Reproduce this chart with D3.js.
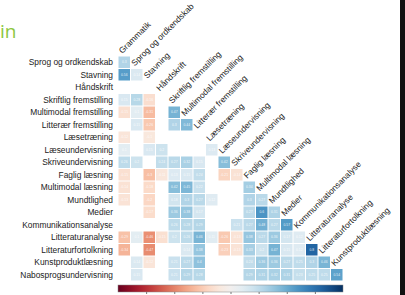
<!DOCTYPE html>
<html>
<head>
<meta charset="utf-8">
<script src="https://cdn.jsdelivr.net/npm/d3@7"></script>
<style>
  body { margin: 0; background: #fff; }
  svg { display: block; font-family: "Liberation Sans", Arial, sans-serif; }
</style>
</head>
<body>
<div id="chart"></div>
<script>
// Correlation matrix (lower triangle) - blank cells are null
const colLabels = ['Grammatik', 'Sprog og ordkendskab', 'Stavning', 'Håndskrift',
    'Skriftlig fremstilling', 'Multimodal fremstilling', 'Litterær fremstilling',
    'Læsetræning', 'Læseundervisning', 'Skriveundervisning', 'Faglig læsning',
    'Multimodal læsning', 'Mundtlighed', 'Medier', 'Kommunikationsanalyse',
    'Litteraturanalyse', 'Litteraturfortolkning', 'Kunstproduktlæsning'];

const rowLabels = ['Sprog og ordkendskab', 'Stavning', 'Håndskrift',
    'Skriftlig fremstilling', 'Multimodal fremstilling', 'Litterær fremstilling',
    'Læsetræning', 'Læseundervisning', 'Skriveundervisning', 'Faglig læsning',
    'Multimodal læsning', 'Mundtlighed', 'Medier', 'Kommunikationsanalyse',
    'Litteraturanalyse', 'Litteraturfortolkning', 'Kunstproduktlæsning',
    'Nabosprogsundervisning'];

const corrRows = [
    [0.30],
    [0.56, 0.14],
    [null, null, null],
    [0.15, 0.28, -0.16, null],
    [-0.15, 0.10, -0.31, null, 0.47],
    [null, 0.15, -0.26, null, 0.30, 0.44],
    [-0.12, null, -0.10, null, null, null, null],
    [0.10, null, 0.15, 0.20, null, null, null, 0.13],
    [0.26, 0.20, null, 0.24, 0.27, 0.32, 0.15, null, 0.42],
    [-0.15, null, -0.30, -0.11, 0.13, 0.15, 0.24, null, -0.21, -0.14],
    [-0.14, null, -0.18, null, 0.42, 0.45, 0.22, null, null, null, 0.34],
    [-0.13, null, -0.20, null, 0.18, 0.30, 0.27, 0.12, null, null, 0.30, 0.27],
    [null, null, -0.17, null, 0.36, 0.38, 0.17, null, null, null, 0.27, 0.60, 0.31],
    [null, null, null, null, 0.26, 0.28, 0.29, null, null, 0.21, 0.27, 0.48, 0.27, 0.57],
    [-0.29, 0.10, -0.46, -0.15, 0.20, 0.26, 0.46, 0.11, -0.26, -0.13, 0.38, 0.27, 0.36, 0.17, 0.12],
    [-0.34, null, -0.47, null, null, 0.14, 0.38, null, -0.23, -0.13, 0.33, 0.20, 0.47, 0.15, 0.12, 0.80],
    [null, 0.14, -0.12, null, 0.21, 0.27, 0.40, null, null, null, 0.24, 0.36, 0.36, 0.27, 0.25, 0.30, 0.46],
    [null, 0.15, null, null, 0.21, 0.29, 0.28, null, null, null, 0.29, 0.31, 0.32, 0.31, 0.23, 0.25, 0.25, 0.54]
];

const legendTicks = [-0.75, -0.5, -0.25, 0, 0.25, 0.5, 0.75];

const W = 405, H = 295;
const svg = d3.select('#chart').append('svg')
    .attr('width', W)
    .attr('height', H);

// slide title fragment
svg.append('text')
    .attr('x', 0)
    .attr('y', 38)
    .style('font-family', '"Open Sans", sans-serif')
    .style('font-size', '19px')
    .style('fill', '#8cc63f')
    .text('in');

// dark slide edge on the right
svg.append('rect')
    .attr('x', 400)
    .attr('y', 0)
    .attr('width', 5)
    .attr('height', H)
    .style('fill', '#111');

const x = d3.scaleBand().domain(colLabels).range([118, 343]);
const y = d3.scaleBand().domain(rowLabels).range([56, 281]);
const color = v => d3.interpolateRdBu((v + 1) / 2);

// flatten into cells
const cells = [];
corrRows.forEach((row, i) => {
    row.forEach((v, j) => {
        if (v !== null) cells.push({ row: rowLabels[i], col: colLabels[j], v: v });
    });
});

const fmt = v => String(+v.toFixed(2));

const g = svg.append('g');
g.selectAll('rect.cell')
    .data(cells)
    .enter().append('rect')
    .attr('class', 'cell')
    .attr('x', d => x(d.col) + 0.5)
    .attr('y', d => y(d.row) + 0.5)
    .attr('width', x.bandwidth() - 1)
    .attr('height', y.bandwidth() - 1)
    .style('fill', d => color(d.v));

g.selectAll('text.val')
    .data(cells)
    .enter().append('text')
    .attr('class', 'val')
    .attr('x', d => x(d.col) + x.bandwidth() / 2)
    .attr('y', d => y(d.row) + y.bandwidth() / 2 + 1.2)
    .attr('text-anchor', 'middle')
    .style('font-size', '3.4px')
    .style('fill', '#fff')
    .style('fill-opacity', 0.85)
    .text(d => fmt(d.v));

// row labels
svg.append('g').selectAll('text')
    .data(rowLabels)
    .enter().append('text')
    .attr('x', 113)
    .attr('y', d => y(d) + y.bandwidth() / 2 + 3)
    .attr('text-anchor', 'end')
    .style('font-size', '8.4px')
    .style('fill', '#222')
    .text(d => d);

// diagonal column labels
svg.append('g').selectAll('text')
    .data(colLabels)
    .enter().append('text')
    .attr('transform', (d, j) =>
        `translate(${x(d) + x.bandwidth() / 2 - 2},${y(rowLabels[j]) - 2}) rotate(-45)`)
    .style('font-size', '8.4px')
    .style('fill', '#222')
    .text(d => d);

// colour bar
const defs = svg.append('defs');
const grad = defs.append('linearGradient').attr('id', 'rdbu');
d3.range(0, 1.001, 0.05).forEach(t => {
    grad.append('stop')
        .attr('offset', `${t * 100}%`)
        .attr('stop-color', d3.interpolateRdBu(t));
});

const lx = d3.scaleLinear().domain([-1, 1]).range([118, 343]);
svg.append('rect')
    .attr('x', lx(-1))
    .attr('y', 285)
    .attr('width', lx(1) - lx(-1))
    .attr('height', 7)
    .style('fill', 'url(#rdbu)')
    .style('stroke', '#888')
    .style('stroke-width', 0.5);

const axis = svg.append('g')
    .attr('transform', 'translate(0,292)')
    .call(d3.axisBottom(lx).tickValues(legendTicks).tickSize(2).tickFormat(d3.format('.2f')));
axis.select('.domain').remove();
axis.selectAll('line').style('stroke', '#777');
axis.selectAll('text')
    .style('font-size', '6px')
    .style('fill', '#555')
    .attr('dy', '0.6em');
</script>
</body>
</html>
